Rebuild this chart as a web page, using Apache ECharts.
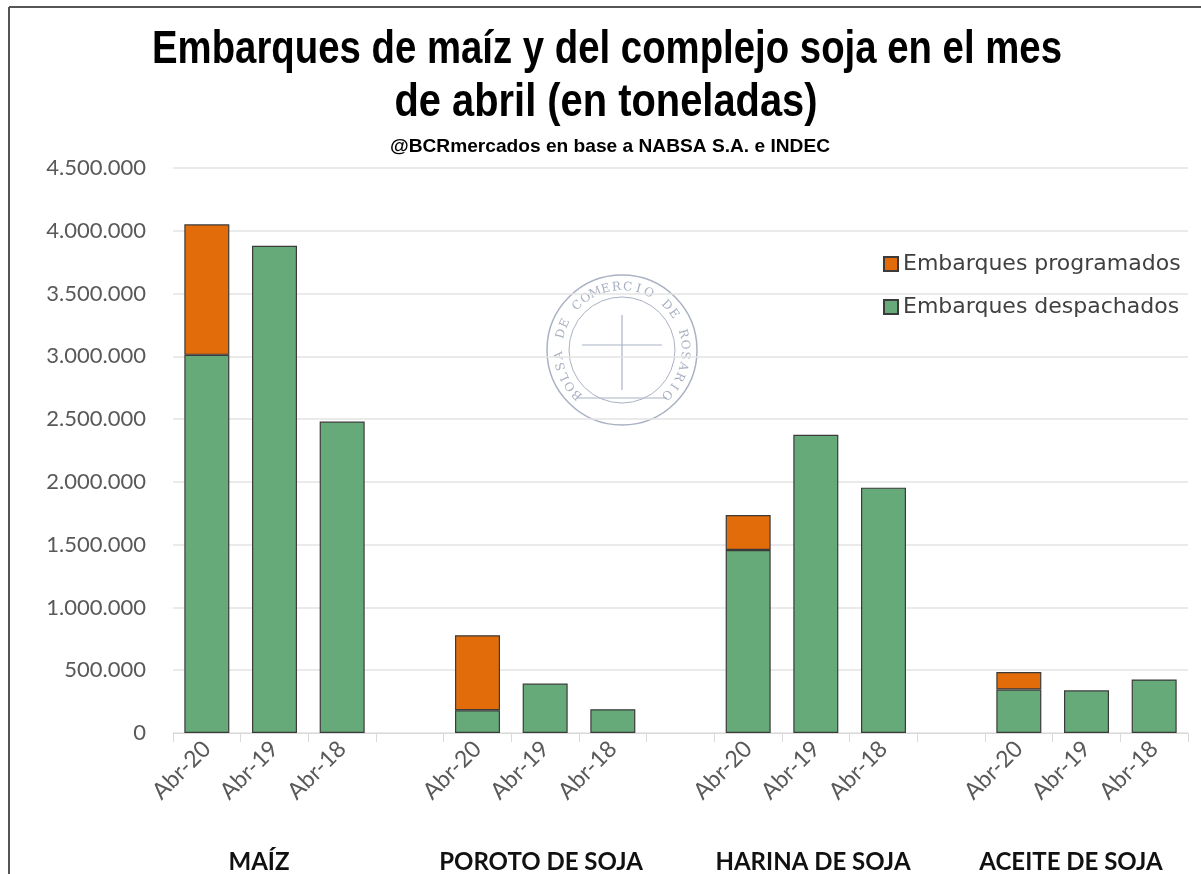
<!DOCTYPE html>
<html><head><meta charset="utf-8">
<script src="https://cdn.jsdelivr.net/npm/echarts@6/dist/echarts.min.js"></script>
<style>html,body{margin:0;padding:0;background:#fff}#c{width:1201px;height:874px}</style>
</head><body><div id="c"></div>
<script>
const categories = ['Abr-20','Abr-19','Abr-18','','Abr-20','Abr-19','Abr-18','','Abr-20','Abr-19','Abr-18','','Abr-20','Abr-19','Abr-18'];
const despachados = [3012000,3881000,2480000,null,181000,394000,189000,null,1457000,2376000,1954000,null,346000,340000,426000];
const programados = [1039000,null,null,null,598000,null,null,null,279000,null,null,null,140000,null,null];
const groups = ['MAÍZ','POROTO DE SOJA','HARINA DE SOJA','ACEITE DE SOJA'];
const groupX = [259,541,813,1071];
const yMin = 0, yMax = 4500000, yStep = 500000;
const titleLines = ['Embarques de maíz y del complejo soja en el mes','de abril (en toneladas)'];
const subtitle = '@BCRmercados en base a NABSA S.A. e INDEC';
const sealText = 'BOLSA DE COMERCIO DE ROSARIO';

const fmt = v => String(v).replace(/\B(?=(\d{3})+(?!\d))/g,'.');
const chart = echarts.init(document.getElementById('c'));

const mctx = document.createElement('canvas').getContext('2d');
function squeezed(text, font, cx, cy, targetW){
  mctx.font = font;
  const w = mctx.measureText(text).width;
  return {type:'text',x:cx,y:cy,scaleX:targetW/w,
    style:{text:text,font:font,fill:'#000',textAlign:'center',textVerticalAlign:'middle'}};
}
const titleFont = 'bold 47px "Liberation Sans"';
const graphics = [
  {type:'line',shape:{x1:9,y1:7,x2:1201,y2:7},style:{stroke:'#555',lineWidth:2}},
  {type:'line',shape:{x1:9,y1:7,x2:9,y2:874},style:{stroke:'#555',lineWidth:2}},
  squeezed(titleLines[0], titleFont, 607, 50, 910),
  squeezed(titleLines[1], titleFont, 606, 103, 423),
  squeezed(subtitle, 'bold 19px "Liberation Sans"', 610, 147, 440)
];
groups.forEach((g,i)=>{
  graphics.push({type:'text',x:groupX[i],y:862,style:{text:g,font:'bold 24px Lato',fill:'#111',textAlign:'center',textVerticalAlign:'middle'}});
});
// watermark seal
const cx=622, cy=350, wm='#a9b1c3';
graphics.push({type:'circle',shape:{cx:cx,cy:cy,r:75},style:{fill:'none',stroke:wm,lineWidth:1.5},z:0});
graphics.push({type:'circle',shape:{cx:cx,cy:cy,r:53},style:{fill:'none',stroke:wm,lineWidth:1},z:0});
const n=sealText.length, a0=-135, a1=135;
for(let i=0;i<n;i++){
  const th=(a0+(a1-a0)*i/(n-1))*Math.PI/180;
  graphics.push({type:'text',x:cx+63*Math.sin(th),y:cy-63*Math.cos(th),rotation:-th,
    style:{text:sealText[i],font:'12px "DejaVu Serif"',fill:wm,textAlign:'center',textVerticalAlign:'middle'},z:0});
}
graphics.push({type:'line',shape:{x1:cx-40,y1:cy-5,x2:cx+40,y2:cy-5},style:{stroke:wm,lineWidth:1.2},z:0});
graphics.push({type:'line',shape:{x1:cx,y1:cy-35,x2:cx,y2:cy+40},style:{stroke:wm,lineWidth:1.2},z:0});
graphics.push({type:'line',shape:{x1:cx-45,y1:cy+48,x2:cx+45,y2:cy+48},style:{stroke:wm,lineWidth:1},z:0});

chart.setOption({
  animation:false,
  grid:{left:173,right:13,top:168,bottom:141,containLabel:false},
  legend:{
    data:['Embarques programados','Embarques despachados'],
    orient:'vertical',left:878,top:248,itemWidth:14,itemHeight:14,itemGap:21,
    textStyle:{fontFamily:'DejaVu Sans',fontSize:22,color:'#404040'},
    icon:'rect'
  },
  xAxis:{
    type:'category',data:categories,
    axisLine:{lineStyle:{color:'#d9d9d9'}},
    axisTick:{show:true,interval:0,length:9,lineStyle:{color:'#d9d9d9'}},
    axisLabel:{interval:0,rotate:45,fontFamily:'Lato',fontSize:23,color:'#595959',margin:12}
  },
  yAxis:{
    type:'value',min:yMin,max:yMax,interval:yStep,
    axisLine:{show:false},axisTick:{show:false},
    splitLine:{lineStyle:{color:'#e3e3e3',width:1.5}},
    axisLabel:{formatter:fmt,fontFamily:'Lato',fontSize:22,color:'#595959',margin:27}
  },
  series:[
    {name:'Embarques despachados',type:'bar',stack:'t',data:despachados,barWidth:45,
     itemStyle:{color:'#66AA79',borderColor:'#3b3b3b',borderWidth:1.2}},
    {name:'Embarques programados',type:'bar',stack:'t',data:programados,barWidth:45,
     itemStyle:{color:'#E36C0A',borderColor:'#3b3b3b',borderWidth:1.2}}
  ],
  graphic:graphics
});
</script></body></html>
